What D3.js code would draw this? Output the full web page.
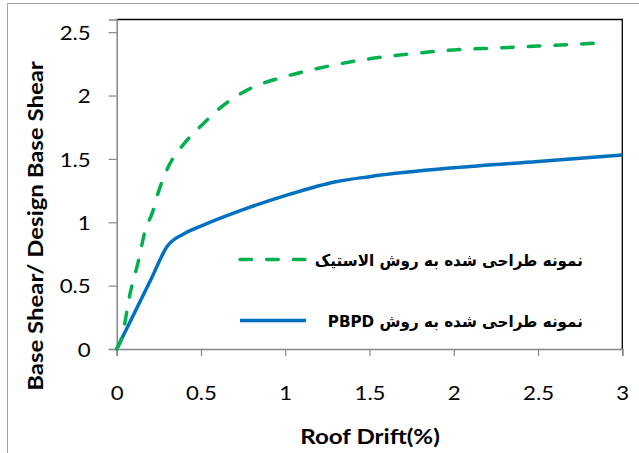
<!DOCTYPE html>
<html>
<head>
<meta charset="utf-8">
<script src="https://cdn.jsdelivr.net/npm/d3@7"></script>
<style>
  html, body { margin: 0; padding: 0; background: #fff; }
  svg { display: block; }
</style>
</head>
<body>
<div id="chart"></div>
<script>
  // Roof drift (%) vs. normalized base shear
  const elasticDrift = [0, 0.03, 0.08, 0.13, 0.17, 0.21, 0.25, 0.3, 0.4, 0.5, 0.65, 0.8, 1, 1.25, 1.5, 1.75, 2, 2.25, 2.5, 2.87];
  const elasticShear = [0, 0.09, 0.44, 0.70, 0.94, 1.07, 1.25, 1.42, 1.62, 1.76, 1.94, 2.06, 2.15, 2.23, 2.29, 2.33, 2.36, 2.375, 2.39, 2.415];
  const pbpdDrift = [0, 0.1, 0.2, 0.3, 0.4, 0.5, 0.75, 1, 1.3, 1.5, 2, 2.5, 3];
  const pbpdShear = [0, 0.27, 0.54, 0.81, 0.91, 0.97, 1.1, 1.21, 1.32, 1.36, 1.43, 1.48, 1.53];
  const xTicks = [0, 0.5, 1, 1.5, 2, 2.5, 3];
  const yTicks = [0, 0.5, 1, 1.5, 2, 2.5];
  const seriesNames = ['نمونه طراحی شده به روش الاستیک', 'نمونه طراحی شده به روش PBPD'];
  const seriesColors = ['#00B050', '#0070C0'];

  const W = 639, H = 453;
  const plot = {left: 116.7, right: 622.3, top: 19.5, bottom: 349};
  const stretch = 1.2; // text in the picture is stretched horizontally

  const svg = d3.select('#chart').append('svg')
    .attr('width', W).attr('height', H);

  // outer chart border (runs off the right/bottom edges)
  svg.append('rect')
    .attr('x', 7.5).attr('y', 3.5).attr('width', 700).attr('height', 500)
    .attr('fill', 'none').attr('stroke', '#a6a6a6').attr('stroke-width', 1);

  const x = d3.scaleLinear().domain([0, 3]).range([plot.left, plot.right]);
  const y = d3.scaleLinear().domain([0, 2.6]).range([plot.bottom, plot.top]);

  // plot frame: top and right black
  svg.append('path')
    .attr('d', `M${plot.left},${plot.top}H${plot.right}V${plot.bottom}`)
    .attr('fill', 'none').attr('stroke', '#000').attr('stroke-width', 1.3);

  const tickFont = 'Lato, "Liberation Sans", sans-serif';

  // y axis
  const yAxis = svg.append('g').attr('transform', `translate(${plot.left},0)`)
    .call(d3.axisLeft(y).tickValues(yTicks).tickSize(8).tickPadding(0).tickFormat(d3.format('')));
  yAxis.select('.domain').attr('stroke', '#868686').attr('stroke-width', 1.5);
  yAxis.selectAll('.tick line').attr('stroke', '#868686').attr('stroke-width', 1.2);
  yAxis.selectAll('.tick text')
    .attr('font-family', tickFont).attr('font-size', 18.5).attr('fill', '#000')
    .attr('x', null).attr('dy', null)
    .attr('text-anchor', 'end').attr('dominant-baseline', 'central')
    .attr('transform', `translate(-26,0) scale(${stretch},1)`);

  // x axis
  const xAxis = svg.append('g').attr('transform', `translate(0,${plot.bottom})`)
    .call(d3.axisBottom(x).tickValues(xTicks).tickSize(7).tickPadding(0).tickFormat(d3.format('')));
  xAxis.select('.domain').attr('stroke', '#868686').attr('stroke-width', 1.5);
  xAxis.selectAll('.tick line').attr('stroke', '#868686').attr('stroke-width', 1.2);
  xAxis.selectAll('.tick text')
    .attr('font-family', tickFont).attr('font-size', 18.5).attr('fill', '#000')
    .attr('y', null).attr('dy', null)
    .attr('text-anchor', 'middle').attr('dominant-baseline', 'central')
    .attr('transform', `translate(0,44) scale(${stretch},1)`);

  // curves
  const line = d3.line().x(d => x(d[0])).y(d => y(d[1])).curve(d3.curveMonotoneX);
  const elastic = elasticDrift.map((d, i) => [d, elasticShear[i]]);
  const pbpd = pbpdDrift.map((d, i) => [d, pbpdShear[i]]);

  svg.append('path').datum(pbpd)
    .attr('d', line).attr('fill', 'none')
    .attr('stroke', seriesColors[1]).attr('stroke-width', 3.5)
    .attr('stroke-linejoin', 'round');
  svg.append('path').datum(elastic)
    .attr('d', line).attr('fill', 'none')
    .attr('stroke', seriesColors[0]).attr('stroke-width', 3.5)
    .attr('stroke-dasharray', '11.5,15.2').attr('stroke-linecap', 'round');

  // legend
  const legendY = [259.5, 320.5];
  const legend = svg.append('g');
  seriesNames.forEach((name, i) => {
    legend.append('line')
      .attr('x1', 240).attr('x2', 306).attr('y1', legendY[i]).attr('y2', legendY[i])
      .attr('stroke', seriesColors[i]).attr('stroke-width', 3.5)
      .attr('stroke-linecap', i === 0 ? 'round' : 'butt')
      .attr('stroke-dasharray', i === 0 ? '11.5,15.2' : null);
    legend.append('text')
      .attr('transform', `translate(583,${legendY[i] + 1}) scale(0.95,1)`)
      .attr('direction', 'rtl')
      .attr('text-anchor', 'start')
      .attr('dominant-baseline', 'central')
      .attr('font-family', '"DejaVu Sans", sans-serif')
      .attr('font-weight', 'bold').attr('font-size', 16)
      .attr('fill', '#000')
      .text(name);
  });

  // axis titles
  svg.append('text')
    .attr('transform', `translate(370,436) scale(1.15,1)`)
    .attr('text-anchor', 'middle').attr('dominant-baseline', 'central')
    .attr('font-family', tickFont).attr('font-weight', 'bold').attr('font-size', 21)
    .text('Roof Drift(%)');

  svg.append('text')
    .attr('transform', `translate(35,226) rotate(-90) scale(1.14,1)`)
    .attr('text-anchor', 'middle').attr('dominant-baseline', 'central')
    .attr('font-family', tickFont).attr('font-weight', 'bold').attr('font-size', 21)
    .text('Base Shear/ Design Base Shear');
</script>
</body>
</html>
